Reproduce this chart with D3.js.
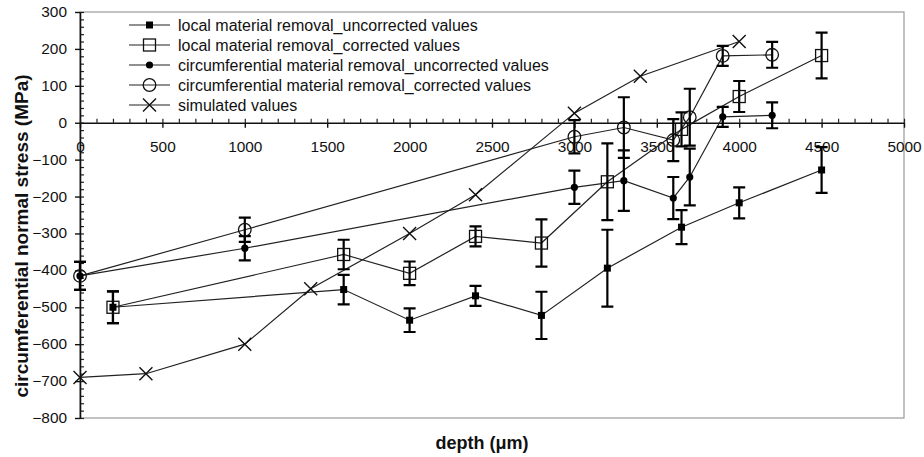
<!DOCTYPE html>
<html><head><meta charset="utf-8">
<script src="https://cdn.jsdelivr.net/npm/d3@7"></script>
<style>body{margin:0;background:#fff;}svg{display:block;font-family:Arial,"Liberation Sans",sans-serif;}</style>
</head><body>
<svg id="c" width="924" height="457"></svg>
<script>
// ---- data ----
const depthLocal = [200,1600,2000,2400,2800,3200,3650,4000,4500];
const localUncorrected = [-500,-452,-535,-469,-522,-394,-283,-217,-128];
const localCorrected   = [-500,-357,-408,-308,-326,-160,-18,71,182];
const localError       = [43,40,32,27,64,104,46,42,62];

const depthCirc = [0,1000,3000,3300,3600,3700,3900,4200];
const circUncorrected = [-415,-340,-175,-157,-204,-147,16,20];
const circCorrected   = [-415,-290,-38,-13,-47,15,181,184];
const circError       = [38,33,45,82,57,77,27,35];

const depthSim = [0,400,1000,1400,2000,2400,3000,3400,4000];
const simulated = [-690,-680,-600,-450,-300,-195,26,126,220];

const seriesNames = [
  "local material removal_uncorrected values",
  "local material removal_corrected values",
  "circumferential material removal_uncorrected values",
  "circumferential material removal_corrected values",
  "simulated values"
];
const xTicks = [0,500,1000,1500,2000,2500,3000,3500,4000,4500,5000];
const yTicks = [-800,-700,-600,-500,-400,-300,-200,-100,0,100,200,300];

// ---- chart ----
const FONT = 'Arial, "Liberation Sans", sans-serif';
const svg = d3.select("#c");
const L=80,R=904,T=12,B=418;
const x = d3.scaleLinear().domain([0,5000]).range([L,R]);
const y = d3.scaleLinear().domain([-800,300]).range([B,T]);

// plot border
svg.append("rect").attr("x",L).attr("y",T).attr("width",R-L).attr("height",B-T)
  .attr("fill","none").attr("stroke","#9a9a9a").attr("stroke-width",1.2);

// y axis
const yMinor = d3.range(-800,301,20);
svg.append("g").attr("transform",`translate(${L},0)`)
  .call(d3.axisRight(y).tickValues(yMinor).tickSize(4).tickFormat(""))
  .call(g=>g.select(".domain").remove())
  .selectAll("line").attr("stroke","#222").attr("stroke-width",1.2);
const gy = svg.append("g").attr("transform",`translate(${L},0)`)
  .call(d3.axisLeft(y).tickValues(yTicks).tickSize(5).tickPadding(0).tickSizeOuter(0).tickFormat(d3.format("d")));
gy.attr("font-family",FONT);
gy.select(".domain").attr("stroke","#111").attr("stroke-width",1.6);
gy.selectAll("line").attr("stroke","#111").attr("stroke-width",1.4);
gy.selectAll("text").attr("font-size","14px").attr("fill","#111")
  .attr("x",0).attr("transform","translate(-13,0) scale(1.1,1)");

// x axis at y=0
const xMinor = d3.range(0,5001,100);
svg.append("g").attr("transform",`translate(0,${y(0)})`)
  .call(d3.axisTop(x).tickValues(xMinor).tickSize(4).tickFormat(""))
  .call(g=>g.select(".domain").remove())
  .selectAll("line").attr("stroke","#222").attr("stroke-width",1.2);
const gx = svg.append("g").attr("transform",`translate(0,${y(0)})`)
  .call(d3.axisBottom(x).tickValues(xTicks).tickSize(5).tickPadding(14).tickSizeOuter(0).tickFormat(d3.format("d")));
gx.attr("font-family",FONT);
gx.select(".domain").attr("stroke","#111").attr("stroke-width",1.6);
gx.selectAll("line").attr("stroke","#111").attr("stroke-width",1.4);
gx.selectAll("text").attr("font-size","14px").attr("fill","#111").attr("transform","scale(1.1,1)");

// axis titles
svg.append("text").attr("transform",`translate(28,236) rotate(-90)`)
  .attr("text-anchor","middle").attr("font-weight","bold").attr("font-size","19px").attr("fill","#111")
  .text("circumferential normal stress (MPa)");
svg.append("text").attr("x",(L+R)/2-10).attr("y",449)
  .attr("text-anchor","middle").attr("font-weight","bold").attr("font-size","18px").attr("fill","#111")
  .text("depth (μm)");

// series definitions
const series = [
  {xs:depthLocal, ys:localUncorrected, err:localError, marker:"fsq"},
  {xs:depthLocal, ys:localCorrected, err:localError, marker:"osq"},
  {xs:depthCirc, ys:circUncorrected, err:circError, marker:"fci"},
  {xs:depthCirc, ys:circCorrected, err:circError, marker:"oci"},
  {xs:depthSim, ys:simulated, err:null, marker:"x"}
];

function drawMarker(g, type, cx, cy){
  if(type==="fsq") g.append("rect").attr("x",cx-3.5).attr("y",cy-3.5).attr("width",7).attr("height",7).attr("fill","#000");
  else if(type==="osq") g.append("rect").attr("x",cx-6).attr("y",cy-6).attr("width",12).attr("height",12).attr("fill","none").attr("stroke","#111").attr("stroke-width",1.3);
  else if(type==="fci") g.append("circle").attr("cx",cx).attr("cy",cy).attr("r",3.6).attr("fill","#000");
  else if(type==="oci") g.append("circle").attr("cx",cx).attr("cy",cy).attr("r",6.3).attr("fill","none").attr("stroke","#111").attr("stroke-width",1.3);
  else if(type==="x") g.append("path").attr("d",`M${cx-6.5},${cy-6.5}L${cx+6.5},${cy+6.5}M${cx-6.5},${cy+6.5}L${cx+6.5},${cy-6.5}`).attr("stroke","#111").attr("stroke-width",1.4).attr("fill","none");
}

const line = d3.line();
series.forEach(s=>{
  const pts = s.xs.map((d,i)=>[x(d),y(s.ys[i])]);
  svg.append("path").attr("d",line(pts)).attr("fill","none").attr("stroke","#222").attr("stroke-width",1.2);
});
series.forEach(s=>{
  const g = svg.append("g");
  if(s.err){
    s.xs.forEach((d,i)=>{
      const cx=x(d), y1=y(s.ys[i]+s.err[i]), y2=y(s.ys[i]-s.err[i]);
      g.append("path").attr("d",`M${cx},${y1}V${y2}M${cx-6},${y1}H${cx+6}M${cx-6},${y2}H${cx+6}`)
        .attr("stroke","#000").attr("stroke-width",2.2).attr("fill","none");
    });
  }
  s.xs.forEach((d,i)=>drawMarker(g,s.marker,x(d),y(s.ys[i])));
});

// legend
const lg = svg.append("g");
seriesNames.forEach((n,i)=>{
  const ly = 25 + i*20;
  lg.append("line").attr("x1",129).attr("x2",170).attr("y1",ly).attr("y2",ly).attr("stroke","#222").attr("stroke-width",1.2);
  drawMarker(lg, series[i].marker, 149.5, ly);
  lg.append("text").attr("x",178).attr("y",ly+5.5)
    .attr("font-size","16px").attr("fill","#111").text(n);
});
</script>
</body></html>
